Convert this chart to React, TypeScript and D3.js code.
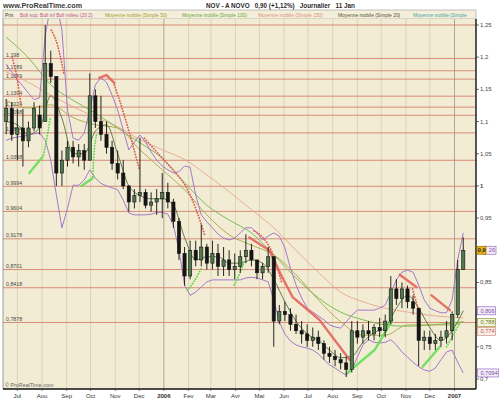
import React from 'react';
import * as d3 from 'd3';

const W = 500;
const H = 400;

// ---- price data (weekly bars, first bar week of 17 Jun 2005) ----
const firstBar = new Date(2005, 5, 17);
const opens = [1.10,1.12,1.08,1.09,1.07,1.09,1.11,1.10,1.19,1.17,1.02,1.04,1.06,1.045,1.055,1.04,1.14,1.10,1.08,1.06,1.035,1.02,1.0,0.975,0.985,0.99,0.97,0.975,0.98,0.99,0.975,0.945,0.895,0.86,0.90,0.885,0.905,0.88,0.895,0.875,0.885,0.87,0.875,0.89,0.90,0.885,0.865,0.875,0.89,0.79,0.805,0.80,0.785,0.775,0.77,0.76,0.765,0.755,0.74,0.735,0.73,0.725,0.715,0.775,0.765,0.775,0.77,0.78,0.775,0.79,0.84,0.825,0.84,0.82,0.81,0.76,0.765,0.755,0.76,0.765,0.775,0.80,0.87];
const highs = [1.135,1.13,1.12,1.12,1.10,1.13,1.125,1.25,1.21,1.17,1.055,1.07,1.07,1.065,1.065,1.175,1.15,1.14,1.10,1.07,1.055,1.04,1.0,0.995,1.075,0.995,0.99,0.995,1.02,1.005,0.98,0.95,0.905,0.915,0.915,0.94,0.91,0.915,0.91,0.905,0.90,0.895,0.90,0.925,0.91,0.885,0.88,0.905,0.89,0.815,0.82,0.81,0.80,0.79,0.785,0.78,0.775,0.76,0.75,0.745,0.74,0.735,0.79,0.79,0.785,0.79,0.785,0.795,0.80,0.86,0.855,0.85,0.845,0.83,0.81,0.775,0.775,0.77,0.775,0.79,0.805,0.885,0.92];
const lows = [1.08,1.07,1.04,1.03,1.06,1.085,1.08,1.10,1.16,1.00,1.00,1.03,1.035,1.03,1.025,1.04,1.09,1.07,1.05,1.025,1.01,0.995,0.96,0.965,0.975,0.965,0.96,0.955,0.95,0.965,0.935,0.885,0.845,0.855,0.875,0.875,0.87,0.87,0.86,0.86,0.86,0.855,0.865,0.88,0.875,0.855,0.855,0.865,0.75,0.785,0.79,0.775,0.77,0.755,0.75,0.75,0.745,0.73,0.725,0.72,0.715,0.703,0.71,0.755,0.755,0.76,0.76,0.765,0.765,0.785,0.815,0.81,0.81,0.80,0.72,0.745,0.745,0.745,0.75,0.755,0.76,0.795,0.87];
const closes = [1.12,1.08,1.09,1.07,1.09,1.12,1.09,1.19,1.17,1.02,1.04,1.06,1.045,1.055,1.04,1.14,1.10,1.08,1.06,1.035,1.02,1.0,0.975,0.985,0.99,0.97,0.975,0.98,0.99,0.975,0.945,0.895,0.86,0.90,0.885,0.905,0.88,0.895,0.875,0.885,0.87,0.875,0.89,0.90,0.885,0.865,0.875,0.89,0.79,0.805,0.80,0.785,0.775,0.77,0.76,0.765,0.755,0.74,0.735,0.73,0.725,0.715,0.775,0.765,0.775,0.77,0.78,0.775,0.79,0.84,0.825,0.84,0.82,0.81,0.76,0.765,0.755,0.76,0.765,0.775,0.80,0.87,0.90];

// Bollinger (20,2) read weekly
const bollUpper = [1.189,1.177,1.165,1.155,1.144,1.134,1.137,1.234,1.281,1.284,1.242,1.118,1.074,1.071,1.082,1.118,1.157,1.168,1.161,1.141,1.118,1.087,1.056,1.068,1.079,1.068,1.053,1.040,1.031,1.025,1.020,1.022,1.031,1.029,0.986,0.955,0.944,0.935,0.925,0.919,0.916,0.919,0.927,0.935,0.935,0.927,0.916,0.922,0.927,0.922,0.904,0.872,0.846,0.826,0.810,0.804,0.798,0.792,0.784,0.781,0.779,0.789,0.799,0.807,0.807,0.807,0.807,0.810,0.815,0.834,0.854,0.866,0.869,0.866,0.846,0.823,0.810,0.806,0.803,0.803,0.823,0.885,0.927];
const bollLower = [1.071,1.074,1.076,1.077,1.079,1.081,1.082,1.071,1.040,0.986,0.935,0.965,1.001,1.001,1.009,1.025,1.012,1.004,1.000,0.997,0.994,0.978,0.958,0.955,0.955,0.955,0.956,0.959,0.959,0.956,0.939,0.900,0.846,0.830,0.835,0.843,0.851,0.854,0.854,0.854,0.854,0.854,0.854,0.857,0.858,0.857,0.854,0.851,0.823,0.789,0.770,0.759,0.753,0.750,0.748,0.745,0.739,0.730,0.722,0.717,0.711,0.706,0.714,0.734,0.753,0.761,0.757,0.756,0.757,0.761,0.753,0.742,0.734,0.726,0.719,0.714,0.712,0.717,0.730,0.742,0.745,0.726,0.7094];

// Moving averages
const ma20 = [1.10,1.095,1.08,1.09,1.14,1.105,1.05,1.05,1.085,1.095,1.05,1.0,0.985,0.98,0.98,0.97,0.92,0.885,0.89,0.89,0.88,0.88,0.885,0.88,0.855,0.82,0.79,0.77,0.76,0.745,0.733,0.735,0.757,0.772,0.78,0.81,0.83,0.81,0.78,0.76,0.775,0.806];
const maWeeks = [0,4,8,12,16,20,24,28,32,36,40,44,48,52,56,60,64,68,72,76,80,82];
const ma50 = [1.133,1.121,1.126,1.106,1.095,1.090,1.056,1.025,0.994,0.955,0.924,0.908,0.893,0.862,0.823,0.789,0.768,0.768,0.784,0.784,0.784,0.789];
const ma100 = [1.231,1.199,1.157,1.133,1.113,1.090,1.067,1.043,1.005,0.970,0.947,0.927,0.893,0.857,0.826,0.804,0.792,0.784,0.782,0.784,0.787,0.789];
const ma150 = [1.177,1.161,1.141,1.123,1.107,1.092,1.072,1.056,1.041,1.017,0.991,0.963,0.935,0.900,0.866,0.835,0.820,0.810,0.804,0.799,0.796,0.795];

// Stop-and-reverse dots and trend segments: [week, value]
const sarRed = [
  [[1.1,1.199],[2.0,1.165],[2.7,1.123]],
  [[8.1,1.242],[9.2,1.219],[10.4,1.172]],
  [[19.4,1.157],[20.3,1.134],[22.6,1.067],[23.9,1.025]],
  [[24.8,1.074],[27.5,1.048],[30.2,1.022],[32.3,0.998],[34.1,0.963],[35.6,0.924]],
  [[44.5,0.93],[46.5,0.915],[47.8,0.895],[49.4,0.85]],
  [[72.9,0.84],[74.2,0.80]],
];
const sarGreen = [
  [[6.7,1.048],[7.4,1.079],[7.9,1.106]],
  [[15.5,1.014],[15.8,1.055],[16.2,1.079]],
  [[32.5,0.838],[33.8,0.853],[35.0,0.872]],
  [[40.9,0.846],[42.0,0.866],[42.7,0.882]],
  [[79.0,0.75],[81.4,0.787]],
];
const trendRed = [
  [[16.7,1.168],[18.0,1.172],[19.4,1.160]],
  [[43.6,0.92],[47.2,0.90],[49.4,0.86],[51.4,0.827],[56.2,0.792],[61.6,0.73]],
  [[70.6,0.862],[73.6,0.843]],
  [[76.3,0.83],[79.6,0.807]],
];
const trendGreen = [
  [[4.15,1.02],[6.5,1.045]],
  [[13.5,1.0],[15.5,1.012]],
  [[61.1,0.709],[66.1,0.745],[69.3,0.792]],
  [[74.7,0.719],[77.8,0.75]],
];

const levels = [1.25,1.198,1.1789,1.1659,1.1394,1.1224,1.1098,1.0824,1.0398,0.9994,0.9604,0.9178,0.8701,0.8418,0.7878];
const levelLabels = ['','1,198','1,1789','1,1659','1,1394','1,1224','1,1098','1,0824','1,0398','0,9994','0,9604','0,9178','0,8701','0,8418','0,7878'];
const yTicks = [1.25,1.2,1.15,1.1,1.05,1,0.95,0.9,0.85,0.8,0.75,0.7];
const yTickLabels = ['1,25','1,2','1,15','1,1','1,05','1','0,95','','0,85','','0,75','0,7'];
const monthLabels = ['Jul','Aou','Sep','Oct','Nov','Dec','2006','Fev','Mar','Avr','Mai','Jun','Jul','Aou','Sep','Oct','Nov','Dec','2007'];

const legendItems = [
  { text: 'Prix', x: 5, color: '#333333' },
  { text: 'Boll sup: Boll inf Boll milieu (20 2)', x: 20, color: '#B8508C' },
  { text: 'Moyenne mobile (Simple 50)', x: 105, color: '#A89A2A' },
  { text: 'Moyenne mobile (Simple 100)', x: 182, color: '#5EA83A' },
  { text: 'Moyenne mobile (Simple 150)', x: 258, color: '#E08C7C' },
  { text: 'Moyenne mobile (Simple 20)', x: 338, color: '#4E5230' },
  { text: 'Moyenne mobile (Simple', x: 413, color: '#3FA8A0' },
];

const lastBoxes = [
  { label: '0,806', value: 0.806, stroke: '#9D6BC9', fill: '#F4EEF8', tx: '#7A4AA0' },
  { label: '0,788', value: 0.788, stroke: '#8A9A30', fill: '#F6F4E0', tx: '#6A7A20' },
  { label: '0,774', value: 0.774, stroke: '#D8907E', fill: '#FAEDE8', tx: '#B0604E' },
  { label: '0,7094', value: 0.7094, stroke: '#9D6BC9', fill: '#F4EEF8', tx: '#7A4AA0' },
];

const FONT = 'Liberation Sans, Arial, sans-serif';

export default function App() {
  const PL = 3, PR = 476, PT = 19, PB = 389;
  const x = d3.scaleTime().domain([new Date(2005, 5, 13), new Date(2007, 0, 28)]).range([PL, PR]);
  const y = d3.scaleLinear().domain([0.7, 1.25]).range([379, 25]);
  const wd = (t: number) => new Date(firstBar.getTime() + t * 7 * 86400000);
  const line = d3.line<[number, number]>().x(d => x(wd(d[0]))).y(d => y(d[1]));
  const smooth = d3.line<[number, number]>().x(d => x(wd(d[0]))).y(d => y(d[1])).curve(d3.curveMonotoneX);
  const months = d3.timeMonth.range(new Date(2005, 6, 1), new Date(2007, 0, 2));

  const upperPts = bollUpper.map((v, i) => [i, v] as [number, number]);
  const lowerPts = bollLower.map((v, i) => [i, v] as [number, number]);
  const ma20Pts = ma20.map((v, i) => [i * 2, v] as [number, number]);
  const mk = (arr: number[]) => arr.map((v, i) => [maWeeks[i], v] as [number, number]);
  const lastY = y(closes[closes.length - 1]);

  const bw = 3.2;
  return (
    <svg width={W} height={H} style={{ position: 'absolute', left: 0, top: 0, background: '#fff' }} fontFamily={FONT}>
      <defs>
        <clipPath id="plot"><rect x={PL} y={PT} width={PR - PL} height={PB - PT} /></clipPath>
      </defs>
      <rect x={0} y={0} width={W} height={H} fill="#ffffff" />
      {/* header */}
      <text x={3} y={8} fontSize={7.2} fontWeight="bold" fill="#3a3a3a">www.ProRealTime.com</text>
      <text x={206} y={8} fontSize={6.3} fontWeight="bold" fill="#2a2a2a" xmlSpace="preserve">NOV - A NOVO   0,90 (+1,12%)   Journalier   11 Jan</text>
      {/* legend strip */}
      <rect x={PL} y={10} width={PR - PL} height={9} fill="#F4EFDA" stroke="#9a9a9a" strokeWidth={0.6} />
      {legendItems.map((l, i) => (
        <text key={i} x={l.x} y={16.6} fontSize={4.9} fill={l.color}>{l.text}</text>
      ))}
      {/* plot */}
      <rect x={PL} y={PT} width={PR - PL} height={PB - PT} fill="#F1ECD3" />
      <g clipPath="url(#plot)">
        {months.map((m, i) => (
          <line key={i} x1={x(m)} x2={x(m)} y1={PT} y2={PB}
            stroke={m.getMonth() === 0 ? '#9E978A' : '#D7CEAC'} strokeWidth={0.8} />
        ))}
        {levels.map((v, i) => (
          <line key={i} x1={PL} x2={PR} y1={y(v)} y2={y(v)} stroke="#D4826E" strokeWidth={0.9} />
        ))}
        {levelLabels.map((t, i) => t ? (
          <text key={i} x={6} y={y(levels[i]) - 1.5} fontSize={5.3} fill="#4a4a4a">{t}</text>
        ) : null)}
        {/* moving averages */}
        <path d={smooth(mk(ma150)) || ''} fill="none" stroke="#E8A590" strokeWidth={0.9} />
        <path d={smooth(mk(ma100)) || ''} fill="none" stroke="#6DB84A" strokeWidth={0.9} />
        <path d={smooth(mk(ma50)) || ''} fill="none" stroke="#A9A548" strokeWidth={0.9} />
        <path d={smooth(ma20Pts) || ''} fill="none" stroke="#3F5F2F" strokeWidth={0.8} />
        {/* bollinger */}
        <path d={line(upperPts) || ''} fill="none" stroke="#9D6BC9" strokeWidth={0.9} />
        <path d={line(lowerPts) || ''} fill="none" stroke="#9D6BC9" strokeWidth={0.9} />
        {/* trend segments */}
        {trendRed.map((s, i) => (
          <path key={'tr' + i} d={line(s as [number, number][]) || ''} fill="none" stroke="#E4645C" strokeWidth={2.4} strokeLinecap="round" opacity={0.9} />
        ))}
        {trendGreen.map((s, i) => (
          <path key={'tg' + i} d={line(s as [number, number][]) || ''} fill="none" stroke="#66DD55" strokeWidth={2.4} strokeLinecap="round" opacity={0.9} />
        ))}
        {sarRed.map((s, i) => (
          <path key={'sr' + i} d={smooth(s as [number, number][]) || ''} fill="none" stroke="#E05A55" strokeWidth={1.8} strokeDasharray="0.2 2.6" strokeLinecap="round" />
        ))}
        {sarGreen.map((s, i) => (
          <path key={'sg' + i} d={smooth(s as [number, number][]) || ''} fill="none" stroke="#5CD848" strokeWidth={1.8} strokeDasharray="0.2 2.6" strokeLinecap="round" />
        ))}
        {/* candles */}
        {closes.map((c, i) => {
          const o = opens[i];
          const cx = x(wd(i));
          const top = y(Math.max(o, c));
          const bot = y(Math.min(o, c));
          const up = c >= o;
          return (
            <g key={i}>
              <line x1={cx} x2={cx} y1={y(highs[i])} y2={y(lows[i])} stroke="#111" strokeWidth={0.9} />
              <rect x={cx - bw / 2} y={top} width={bw} height={Math.max(0.9, bot - top)}
                fill={up ? '#4E7A4E' : '#151515'} stroke="#111" strokeWidth={0.6} />
            </g>
          );
        })}
        <text x={5} y={387} fontSize={5.4} fill="#666">© ProRealTime.com</text>
      </g>
      {/* frame */}
      <line x1={PL} x2={PL} y1={PT} y2={PB} stroke="#777" strokeWidth={0.7} />
      <line x1={PL} x2={PR} y1={PB} y2={PB} stroke="#111" strokeWidth={1.4} />
      <line x1={PR} x2={PR} y1={PT} y2={PB} stroke="#111" strokeWidth={1.4} />
      {/* right axis */}
      {yTicks.map((v, i) => (
        <g key={i}>
          <line x1={PR} x2={PR + 3} y1={y(v)} y2={y(v)} stroke="#333" strokeWidth={0.7} />
          {yTickLabels[i] ? (
            <text x={PR + 4} y={y(v) + 2} fontSize={6} fill="#444" fontWeight={v === 1 ? 'bold' : 'normal'}>{yTickLabels[i]}</text>
          ) : null}
        </g>
      ))}
      {/* bottom axis */}
      {months.map((m, i) => (
        <g key={i}>
          <line x1={x(m)} x2={x(m)} y1={PB} y2={PB + 2} stroke="#333" strokeWidth={0.6} />
          <text x={x(m)} y={398} fontSize={6} textAnchor="middle" fill="#333"
            fontWeight={m.getMonth() === 0 ? 'bold' : 'normal'}>{monthLabels[i]}</text>
        </g>
      ))}
      {/* last value boxes */}
      {lastBoxes.map((b, i) => (
        <g key={i}>
          <rect x={477.5} y={y(b.value) - 4} width={i === 3 ? 21 : 18} height={8} fill={b.fill} stroke={b.stroke} strokeWidth={0.7} />
          <text x={i === 3 ? 497.5 : 494.5} y={y(b.value) + 2} fontSize={5.6} textAnchor="end" fill={b.tx}>{b.label}</text>
        </g>
      ))}
      {/* upper band value box, partly covered by the price box */}
      <rect x={483} y={lastY - 4} width={13} height={8} fill="#F4EEF8" stroke="#9D6BC9" strokeWidth={0.7} />
      <text x={495} y={lastY + 2} fontSize={5.6} textAnchor="end" fill="#7A4AA0">26</text>
      <rect x={477} y={lastY - 4} width={9} height={8} fill="#E8B21E" stroke="#A07C00" strokeWidth={0.7} />
      <text x={477.8} y={lastY + 2} fontSize={5.6} fontWeight="bold" fill="#222">0,9</text>
    </svg>
  );
}
